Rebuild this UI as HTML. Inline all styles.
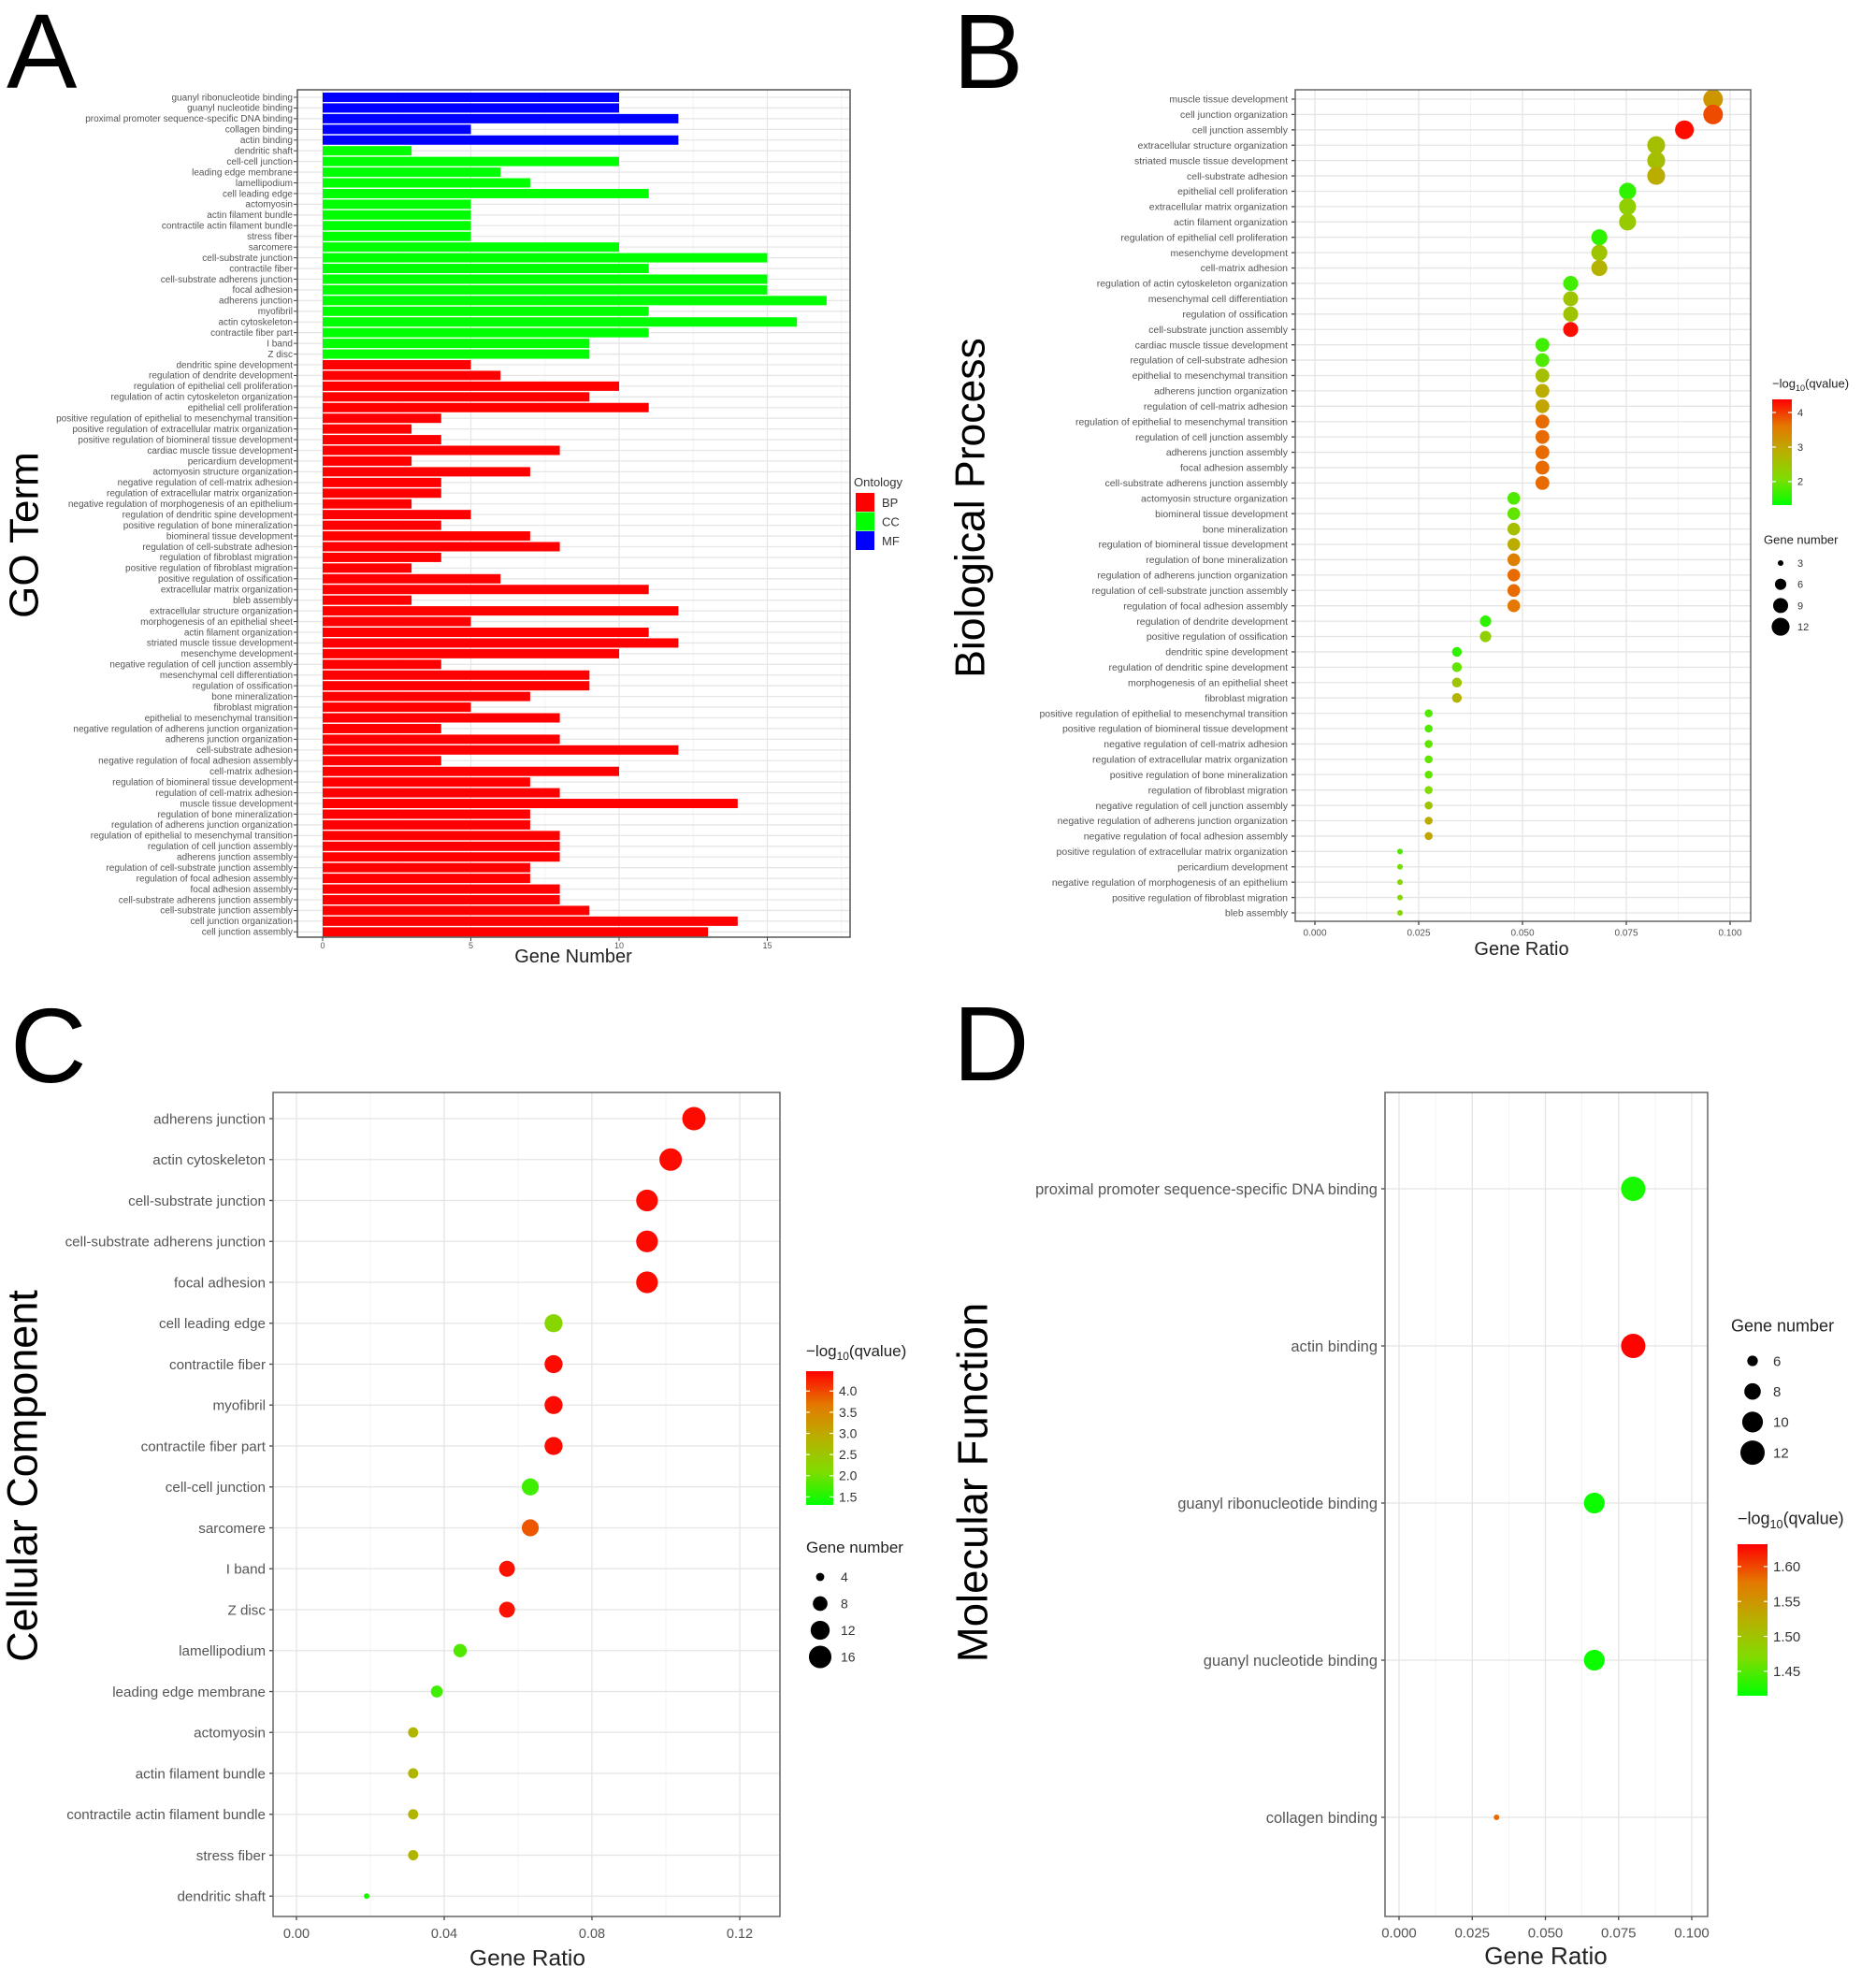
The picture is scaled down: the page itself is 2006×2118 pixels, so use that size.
<!DOCTYPE html>
<html><head><meta charset="utf-8"><style>
html,body{margin:0;padding:0;background:#fff;}
svg{display:block;font-family:"Liberation Sans",sans-serif;}
</style></head><body>
<svg id="fig" width="2006" height="2118" viewBox="0 0 2006 2118" xmlns="http://www.w3.org/2000/svg"></svg>
<script>
// ---------- Panel A data ----------
const aLabels=["guanyl ribonucleotide binding","guanyl nucleotide binding","proximal promoter sequence-specific DNA binding","collagen binding","actin binding",
"dendritic shaft","cell-cell junction","leading edge membrane","lamellipodium","cell leading edge","actomyosin","actin filament bundle","contractile actin filament bundle","stress fiber","sarcomere","cell-substrate junction","contractile fiber","cell-substrate adherens junction","focal adhesion","adherens junction","myofibril","actin cytoskeleton","contractile fiber part","I band","Z disc",
"dendritic spine development","regulation of dendrite development","regulation of epithelial cell proliferation","regulation of actin cytoskeleton organization","epithelial cell proliferation","positive regulation of epithelial to mesenchymal transition","positive regulation of extracellular matrix organization","positive regulation of biomineral tissue development","cardiac muscle tissue development","pericardium development","actomyosin structure organization","negative regulation of cell-matrix adhesion","regulation of extracellular matrix organization","negative regulation of morphogenesis of an epithelium","regulation of dendritic spine development","positive regulation of bone mineralization","biomineral tissue development","regulation of cell-substrate adhesion","regulation of fibroblast migration","positive regulation of fibroblast migration","positive regulation of ossification","extracellular matrix organization","bleb assembly","extracellular structure organization","morphogenesis of an epithelial sheet","actin filament organization","striated muscle tissue development","mesenchyme development","negative regulation of cell junction assembly","mesenchymal cell differentiation","regulation of ossification","bone mineralization","fibroblast migration","epithelial to mesenchymal transition","negative regulation of adherens junction organization","adherens junction organization","cell-substrate adhesion","negative regulation of focal adhesion assembly","cell-matrix adhesion","regulation of biomineral tissue development","regulation of cell-matrix adhesion","muscle tissue development","regulation of bone mineralization","regulation of adherens junction organization","regulation of epithelial to mesenchymal transition","regulation of cell junction assembly","adherens junction assembly","regulation of cell-substrate junction assembly","regulation of focal adhesion assembly","focal adhesion assembly","cell-substrate adherens junction assembly","cell-substrate junction assembly","cell junction organization","cell junction assembly"];
const aValues=[10,10,12,5,12,
3,10,6,7,11,5,5,5,5,10,15,11,15,15,17,11,16,11,9,9,
5,6,10,9,11,4,3,4,8,3,7,4,4,3,5,4,7,8,4,3,6,11,3,12,5,11,12,10,4,9,9,7,5,8,4,8,12,4,10,7,8,14,7,7,8,8,8,7,7,8,8,9,14,13];
const aOntology=["MF","MF","MF","MF","MF",
"CC","CC","CC","CC","CC","CC","CC","CC","CC","CC","CC","CC","CC","CC","CC","CC","CC","CC","CC","CC",
"BP","BP","BP","BP","BP","BP","BP","BP","BP","BP","BP","BP","BP","BP","BP","BP","BP","BP","BP","BP","BP","BP","BP","BP","BP","BP","BP","BP","BP","BP","BP","BP","BP","BP","BP","BP","BP","BP","BP","BP","BP","BP","BP","BP","BP","BP","BP","BP","BP","BP","BP","BP","BP","BP"];
const aTicks=[0,5,10,15];

// ---------- Panel B data ----------
const bLabels=["muscle tissue development","cell junction organization","cell junction assembly","extracellular structure organization","striated muscle tissue development","cell-substrate adhesion","epithelial cell proliferation","extracellular matrix organization","actin filament organization","regulation of epithelial cell proliferation","mesenchyme development","cell-matrix adhesion","regulation of actin cytoskeleton organization","mesenchymal cell differentiation","regulation of ossification","cell-substrate junction assembly","cardiac muscle tissue development","regulation of cell-substrate adhesion","epithelial to mesenchymal transition","adherens junction organization","regulation of cell-matrix adhesion","regulation of epithelial to mesenchymal transition","regulation of cell junction assembly","adherens junction assembly","focal adhesion assembly","cell-substrate adherens junction assembly","actomyosin structure organization","biomineral tissue development","bone mineralization","regulation of biomineral tissue development","regulation of bone mineralization","regulation of adherens junction organization","regulation of cell-substrate junction assembly","regulation of focal adhesion assembly","regulation of dendrite development","positive regulation of ossification","dendritic spine development","regulation of dendritic spine development","morphogenesis of an epithelial sheet","fibroblast migration","positive regulation of epithelial to mesenchymal transition","positive regulation of biomineral tissue development","negative regulation of cell-matrix adhesion","regulation of extracellular matrix organization","positive regulation of bone mineralization","regulation of fibroblast migration","negative regulation of cell junction assembly","negative regulation of adherens junction organization","negative regulation of focal adhesion assembly","positive regulation of extracellular matrix organization","pericardium development","negative regulation of morphogenesis of an epithelium","positive regulation of fibroblast migration","bleb assembly"];
const bRatio=[0.0959,0.0959,0.0890,0.0822,0.0822,0.0822,0.0753,0.0753,0.0753,0.0685,0.0685,0.0685,0.0616,0.0616,0.0616,0.0616,0.0548,0.0548,0.0548,0.0548,0.0548,0.0548,0.0548,0.0548,0.0548,0.0548,0.0479,0.0479,0.0479,0.0479,0.0479,0.0479,0.0479,0.0479,0.0411,0.0411,0.0342,0.0342,0.0342,0.0342,0.0274,0.0274,0.0274,0.0274,0.0274,0.0274,0.0274,0.0274,0.0274,0.0205,0.0205,0.0205,0.0205,0.0205];
const bCount=[14,14,13,12,12,12,11,11,11,10,10,10,9,9,9,9,8,8,8,8,8,8,8,8,8,8,7,7,7,7,7,7,7,7,6,6,5,5,5,5,4,4,4,4,4,4,4,4,4,3,3,3,3,3];
const bQ=[3.2,3.9,4.3,2.6,2.6,2.9,1.6,2.3,2.4,1.6,2.5,2.8,1.7,2.5,2.5,4.3,1.7,1.8,2.6,2.9,3.0,3.7,3.7,3.7,3.7,3.7,1.8,1.9,2.6,2.9,3.5,3.7,3.7,3.6,1.6,2.3,1.6,1.9,2.5,2.8,1.8,1.8,1.9,1.9,1.9,2.1,2.5,2.9,3.0,1.8,2.0,2.2,2.2,2.2];
const bTicks=["0.000","0.025","0.050","0.075","0.100"];
const bColorTicks=[2,3,4];
const bSizeTicks=[3,6,9,12];

// ---------- Panel C data ----------
const cLabels=["adherens junction","actin cytoskeleton","cell-substrate junction","cell-substrate adherens junction","focal adhesion","cell leading edge","contractile fiber","myofibril","contractile fiber part","cell-cell junction","sarcomere","I band","Z disc","lamellipodium","leading edge membrane","actomyosin","actin filament bundle","contractile actin filament bundle","stress fiber","dendritic shaft"];
const cRatio=[0.1076,0.1013,0.0949,0.0949,0.0949,0.0696,0.0696,0.0696,0.0696,0.0633,0.0633,0.0570,0.0570,0.0443,0.0380,0.0316,0.0316,0.0316,0.0316,0.0190];
const cCount=[17,16,15,15,15,11,11,11,11,10,10,9,9,7,6,5,5,5,5,3];
const cQ=[4.4,4.4,4.4,4.4,4.4,2.2,4.4,4.4,4.4,1.7,3.9,4.35,4.35,1.8,1.7,2.8,2.8,2.8,2.8,1.5];
const cTicks=["0.00","0.04","0.08","0.12"];
const cColorTicks=["1.5","2.0","2.5","3.0","3.5","4.0"];
const cSizeTicks=[4,8,12,16];

// ---------- Panel D data ----------
const dLabels=["proximal promoter sequence-specific DNA binding","actin binding","guanyl ribonucleotide binding","guanyl nucleotide binding","collagen binding"];
const dRatio=[0.0800,0.0800,0.0667,0.0667,0.0333];
const dCount=[12,12,10,10,5];
const dQ=[1.425,1.63,1.42,1.42,1.585];
const dTicks=["0.000","0.025","0.050","0.075","0.100"];
const dColorTicks=["1.45","1.50","1.55","1.60"];
const dSizeTicks=[6,8,10,12];

const NS="http://www.w3.org/2000/svg";
const svg=document.getElementById('fig');
function mk(tag,attrs,parent){const e=document.createElementNS(NS,tag);for(const k in attrs)e.setAttribute(k,attrs[k]);(parent||svg).appendChild(e);return e;}
function txt(s,attrs,parent){const t=mk('text',attrs,parent);t.textContent=s;return t;}

const stops=[[0,[0,255,0]],[0.25,[128,220,0]],[0.5,[184,176,0]],[0.75,[228,120,0]],[1,[255,0,0]]];
function grad(t){t=Math.max(0,Math.min(1,t));for(let i=1;i<stops.length;i++){if(t<=stops[i][0]){const a=stops[i-1],b=stops[i];const f=(t-a[0])/(b[0]-a[0]);const c=a[1].map((v,j)=>Math.round(v+(b[1][j]-v)*f));return `rgb(${c[0]},${c[1]},${c[2]})`;}}return 'rgb(255,0,0)';}
const defs=mk('defs',{});
(function(){const g=mk('linearGradient',{id:'cgrad',x1:0,y1:1,x2:0,y2:0},defs);stops.forEach(s=>{mk('stop',{offset:s[0],'stop-color':grad(s[0])},g);});})();

[["A",7,94],["B",1019,94],["C",11,1157],["D",1019,1155]].forEach(p=>{
  const t=txt(p[0],{x:p[1],y:p[2],'font-size':113,fill:'#000'});
  
  
});
function ytitle(s,x,y,fs,name){const t=txt(s,{x:x,y:y,'font-size':fs,'text-anchor':'middle','dominant-baseline':'central',transform:`rotate(-90 ${x} ${y})`,fill:'#000'});
  
  }

// ================= Panel A =================
(function(){
  const g=mk('g',{});
  
  
  const L=318,R=909,T=96,B=1002;
  const x=v=>345+v*31.7, y=i=>104+i*11.44;
  mk('rect',{x:L,y:T,width:R-L,height:B-T,fill:'#fff'},g);
  [2.5,7.5,12.5,17.5].forEach(v=>mk('line',{x1:x(v),x2:x(v),y1:T,y2:B,stroke:'#f4f4f4','stroke-width':1},g));
  aTicks.forEach(v=>mk('line',{x1:x(v),x2:x(v),y1:T,y2:B,stroke:'#e6e6e6','stroke-width':1.3},g));
  aLabels.forEach((l,i)=>mk('line',{x1:L,x2:R,y1:y(i),y2:y(i),stroke:'#e6e6e6','stroke-width':1.3},g));
  const col={BP:'#ff0000',CC:'#00ff00',MF:'#0000ff'};
  aLabels.forEach((l,i)=>{
    const r=mk('rect',{x:x(0),y:y(i)-5,width:x(aValues[i])-x(0),height:10,fill:col[aOntology[i]]},g);
    
    
    const t=txt(l,{x:L-5,y:y(i)+3.3,'font-size':10,'text-anchor':'end',fill:'#555'},g);
    
    
    mk('line',{x1:L-4,x2:L,y1:y(i),y2:y(i),stroke:'#444'},g);
  });
  mk('rect',{x:L,y:T,width:R-L,height:B-T,fill:'none',stroke:'#555','stroke-width':1.5},g);
  aTicks.forEach(v=>{mk('line',{x1:x(v),x2:x(v),y1:B,y2:B+4,stroke:'#444'},g);
    const t=txt(String(v),{x:x(v),y:B+12,'font-size':9,'text-anchor':'middle',fill:'#555'},g);
    
    });
  const xt=txt('Gene Number',{x:613,y:1029,'font-size':20,'text-anchor':'middle',fill:'#222'},g);
  
  
  ytitle('GO Term',26,572,44,'y-axis-title-go-term');
  const lg=mk('g',{},g);
  
  
  txt('Ontology',{x:913,y:520,'font-size':13,fill:'#333'},lg);
  [['BP','#ff0000'],['CC','#00ff00'],['MF','#0000ff']].forEach((e,i)=>{
    const r=mk('rect',{x:915,y:527+i*20.5,width:20,height:20,fill:e[1]},lg);
    
    
    txt(e[0],{x:943,y:542+i*20.5,'font-size':13,fill:'#333'},lg);
  });
})();

function dotPanel(o){
  const g=mk('g',{});
  
  
  const {L,R,T,B}=o;
  const x=v=>o.x0+v*(o.x1-o.x0)/o.xmax;
  const y=i=>o.y0+i*o.dy;
  const col=q=>grad((q-o.qmin)/(o.qmax-o.qmin));
  mk('rect',{x:L,y:T,width:R-L,height:B-T,fill:'#fff'},g);
  const step=o.xmax/(o.ticks.length-1);
  for(let k=0;k<o.ticks.length;k++){
    const mid=(k+0.5)*step; if(x(mid)<R) mk('line',{x1:x(mid),x2:x(mid),y1:T,y2:B,stroke:'#f3f3f3','stroke-width':1},g);
    mk('line',{x1:x(k*step),x2:x(k*step),y1:T,y2:B,stroke:'#e4e4e4','stroke-width':1.3},g);
  }
  o.labels.forEach((l,i)=>mk('line',{x1:L,x2:R,y1:y(i),y2:y(i),stroke:'#e4e4e4','stroke-width':1.3},g));
  o.labels.forEach((l,i)=>{
    const c=mk('circle',{cx:x(o.ratio[i]),cy:y(i),r:o.rad(o.count[i]),fill:col(o.q[i])},g);
    
    
    const t=txt(l,{x:L-8,y:y(i)+o.lfs*0.35,'font-size':o.lfs,'text-anchor':'end',fill:'#555'},g);
    
    
    mk('line',{x1:L-4,x2:L,y1:y(i),y2:y(i),stroke:'#444','stroke-width':1.3},g);
  });
  mk('rect',{x:L,y:T,width:R-L,height:B-T,fill:'none',stroke:'#666','stroke-width':1.5},g);
  o.ticks.forEach((s,k)=>{mk('line',{x1:x(k*step),x2:x(k*step),y1:B,y2:B+4,stroke:'#444','stroke-width':1.3},g);
    const t=txt(s,{x:x(k*step),y:o.tickY+o.tfs*0.35,'font-size':o.tfs,'text-anchor':'middle',fill:'#555'},g);
    
    });
  const xt=txt('Gene Ratio',{x:o.gx,y:o.gy,'font-size':o.gfs,'text-anchor':'middle','dominant-baseline':'central',fill:'#222'},g);
  
  
  const cl=mk('g',{},g);
  
  
  const c=o.cbar;
  const ct=txt('',{x:c.x,y:c.titleY+c.fs*0.35,'font-size':c.fs,fill:'#222'},cl);
  const s1=mk('tspan',{},ct);s1.textContent='\u2212log';
  const s2=mk('tspan',{'font-size':c.fs*0.7,dy:c.fs*0.25},ct);s2.textContent='10';
  const s3=mk('tspan',{dy:-c.fs*0.25},ct);s3.textContent='(qvalue)';
  const cb=mk('rect',{x:c.x,y:c.top,width:c.w,height:c.bot-c.top,fill:'url(#cgrad)'},cl);
  
  
  const cy=v=>c.bot-(v-o.qmin)/(o.qmax-o.qmin)*(c.bot-c.top);
  c.ticks.forEach(s=>{const v=parseFloat(s);
    mk('line',{x1:c.x,x2:c.x+4,y1:cy(v),y2:cy(v),stroke:'#fff','stroke-width':1.2},cl);
    mk('line',{x1:c.x+c.w-4,x2:c.x+c.w,y1:cy(v),y2:cy(v),stroke:'#fff','stroke-width':1.2},cl);
    txt(s,{x:c.x+c.w+6,y:cy(v)+c.lfs*0.35,'font-size':c.lfs,fill:'#333'},cl);});
  const sl=mk('g',{},g);
  
  
  const z=o.sleg;
  txt('Gene number',{x:z.x,y:z.titleY+z.fs*0.35,'font-size':z.fs,fill:'#222'},sl);
  z.ticks.forEach((v,i)=>{mk('circle',{cx:z.cx,cy:z.y0+i*z.dy,r:o.rad(v),fill:'#000'},sl);
    txt(String(v),{x:z.lx,y:z.y0+i*z.dy+z.lfs*0.35,'font-size':z.lfs,fill:'#333'},sl);});
}

dotPanel({name:'panel-b-biological-process-dotplot',L:1385,R:1872,T:96,B:985,x0:1406,x1:1850,xmax:0.1,y0:106,dy:16.415,
  labels:bLabels,ratio:bRatio,count:bCount,q:bQ,qmin:1.32,qmax:4.38,lfs:10.5,tfs:10,tickY:997,ticks:bTicks,
  rad:n=>Math.sqrt(9+9.2*(n-3)),gx:1627,gy:1015,gfs:20,
  cbar:{x:1895,w:21,top:427,bot:540,titleY:410,fs:13,lfs:11,ticks:bColorTicks.map(String)},
  sleg:{x:1886,titleY:577,fs:13,cx:1904,y0:602,dy:22.7,lx:1922,lfs:11,ticks:bSizeTicks}});
ytitle('Biological Process',1038,543,44.5,'y-axis-title-biological-process');

dotPanel({name:'panel-c-cellular-component-dotplot',L:292,R:834,T:1168,B:2049,x0:317,x1:791,xmax:0.12,y0:1196,dy:43.75,
  labels:cLabels,ratio:cRatio,count:cCount,q:cQ,qmin:1.31,qmax:4.47,lfs:15.2,tfs:14.5,tickY:2067,ticks:cTicks,
  rad:n=>Math.sqrt(9+10.5*(n-3)),gx:564,gy:2094,gfs:24.5,
  cbar:{x:862,w:29,top:1466,bot:1609,titleY:1444,fs:17,lfs:14,ticks:cColorTicks},
  sleg:{x:862,titleY:1654,fs:17,cx:877,y0:1686,dy:28.5,lx:899,lfs:14,ticks:cSizeTicks}});
ytitle('Cellular Component',24,1578,45,'y-axis-title-cellular-component');

dotPanel({name:'panel-d-molecular-function-dotplot',L:1481,R:1826,T:1168,B:2049,x0:1496,x1:1809,xmax:0.1,y0:1271,dy:168,
  labels:dLabels,ratio:dRatio,count:dCount,q:dQ,qmin:1.415,qmax:1.632,lfs:16.5,tfs:15,tickY:2066,ticks:dTicks,
  rad:n=>Math.sqrt(9+22.9*(n-5)),gx:1653,gy:2091,gfs:26,
  cbar:{x:1858,w:32,top:1651,bot:1813,titleY:1623,fs:18,lfs:15,ticks:dColorTicks},
  sleg:{x:1851,titleY:1417,fs:18,cx:1874,y0:1455,dy:32.7,lx:1896,lfs:15,ticks:dSizeTicks}});
ytitle('Molecular Function',1040,1585,45.5,'y-axis-title-molecular-function');
</script>
</body></html>
